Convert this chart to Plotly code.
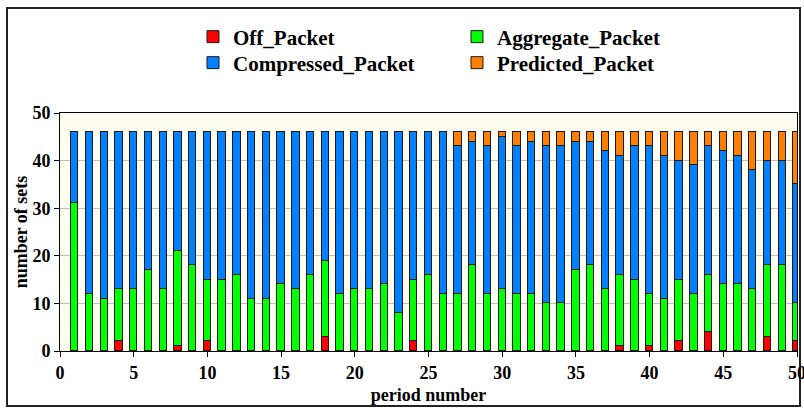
import plotly.graph_objects as go

# period numbers 1..50
periods = list(range(1, 51))

off_packet = [0, 0, 0, 2, 0, 0, 0, 1, 0, 2,
              0, 0, 0, 0, 0, 0, 0, 3, 0, 0,
              0, 0, 0, 2, 0, 0, 0, 0, 0, 0,
              0, 0, 0, 0, 0, 0, 0, 1, 0, 1,
              0, 2, 0, 4, 0, 0, 0, 3, 0, 2]

aggregate_packet = [31, 12, 11, 11, 13, 17, 13, 20, 18, 13,
                    15, 16, 11, 11, 14, 13, 16, 16, 12, 13,
                    13, 14, 8, 13, 16, 12, 12, 18, 12, 13,
                    12, 12, 10, 10, 17, 18, 13, 15, 15, 11,
                    11, 13, 12, 12, 14, 14, 13, 15, 18, 8]

compressed_packet = [15, 34, 35, 33, 33, 29, 33, 25, 28, 31,
                     31, 30, 35, 35, 32, 33, 30, 27, 34, 33,
                     33, 32, 38, 31, 30, 34, 31, 26, 31, 32,
                     31, 32, 33, 33, 27, 26, 29, 25, 28, 31,
                     30, 25, 27, 27, 28, 27, 25, 22, 22, 25]

predicted_packet = [0, 0, 0, 0, 0, 0, 0, 0, 0, 0,
                    0, 0, 0, 0, 0, 0, 0, 0, 0, 0,
                    0, 0, 0, 0, 0, 0, 3, 2, 3, 1,
                    3, 2, 3, 3, 2, 2, 4, 5, 3, 3,
                    5, 6, 7, 3, 4, 5, 8, 6, 6, 11]

x_ticks = [0, 5, 10, 15, 20, 25, 30, 35, 40, 45, 50]
y_ticks = [0, 10, 20, 30, 40, 50]

FONT = "Liberation Serif, Times New Roman, serif"
OUTLINE = dict(color="#1a1a1a", width=1)

series = [
    ("Off_Packet", off_packet, "#FF0000", "legend"),
    ("Aggregate_Packet", aggregate_packet, "#00FF00", "legend"),
    ("Compressed_Packet", compressed_packet, "#0080FF", "legend2"),
    ("Predicted_Packet", predicted_packet, "#FF8000", "legend2"),
]

fig = go.Figure()
for name, vals, color, leg in series:
    fig.add_trace(go.Bar(
        x=periods, y=vals, name=name, width=0.5,
        marker=dict(color=color, line=OUTLINE),
        legend=leg,
    ))

legend_common = dict(
    orientation="h",
    xref="container", yref="container",
    xanchor="left", yanchor="middle",
    entrywidth=219, entrywidthmode="pixels",
    bgcolor="rgba(0,0,0,0)",
    font=dict(family=FONT, size=21, color="black", weight="bold"),
    traceorder="normal",
)

fig.update_layout(
    width=804, height=408,
    barmode="stack",
    bargap=0,
    paper_bgcolor="white",
    plot_bgcolor="#FDFDF0",
    margin=dict(l=60, r=7, t=113, b=57),
    showlegend=True,
    legend=dict(x=193 / 804, y=1 - 37 / 408, **legend_common),
    legend2=dict(x=193 / 804, y=1 - 63 / 408, **legend_common),
    font=dict(family=FONT, color="black"),
)

fig.update_xaxes(
    range=[0, 50], tickvals=x_ticks, automargin="bottom",
    showgrid=False, zeroline=False,
    showline=True, linecolor="black", linewidth=1, mirror=True,
    ticks="outside", ticklen=5, tickcolor="black",
    ticklabeloverflow="allow",
    tickfont=dict(family=FONT, size=18, weight="bold"),
    title=dict(text="period number", standoff=6,
               font=dict(family=FONT, size=18, weight="bold")),
)
fig.update_yaxes(
    range=[0, 50], tickvals=y_ticks, automargin=True,
    showgrid=True, gridcolor="#BDBDBD", gridwidth=1, zeroline=False,
    showline=True, linecolor="black", linewidth=1, mirror=True,
    ticks="outside", ticklen=5, tickcolor="black",
    tickfont=dict(family=FONT, size=18, weight="bold"),
    title=dict(text="number of sets", standoff=0,
               font=dict(family=FONT, size=18, weight="bold")),
)

# outer frame around the whole chart
fig.add_shape(
    type="rect", xref="paper", yref="paper",
    x0=(7 - 60) / 737, x1=(800 - 60) / 737,
    y0=(351 - 406) / 238, y1=(351 - 8) / 238,
    line=dict(color="#222222", width=2), fillcolor="rgba(0,0,0,0)",
    layer="below",
)

# drop the page's default body margin so the figure sits at the window origin
fig.write_html(
    "out.html",
    config={"displayModeBar": False},
    post_script="document.body.style.margin='0';",
)
